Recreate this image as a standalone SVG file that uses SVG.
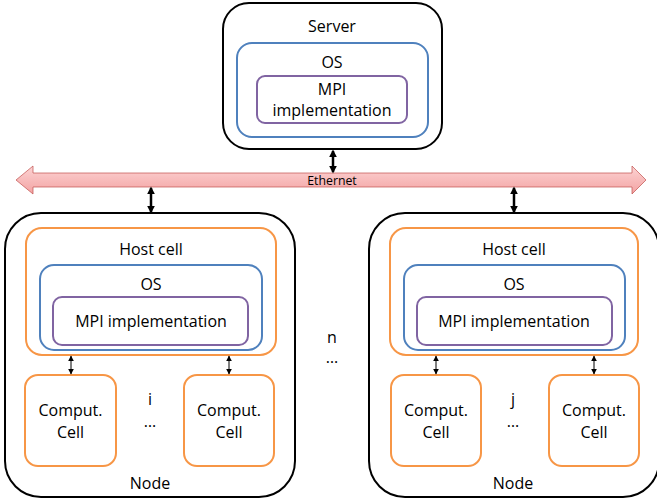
<svg xmlns="http://www.w3.org/2000/svg" width="657" height="499" viewBox="0 0 657 499">
<style>
text{font-family:"Open Sans","Liberation Sans",sans-serif;fill:#000;text-anchor:middle}
.t{font-size:16px}
.e{font-size:12.3px}
.blk{fill:#fff;stroke:#000;stroke-width:2}
.org{fill:none;stroke:#f79646;stroke-width:2}
.blu{fill:none;stroke:#4f81bd;stroke-width:2}
.pur{fill:none;stroke:#8064a2;stroke-width:2}
.thk{stroke:#000;stroke-width:2.5;fill:none;marker-start:url(#hb);marker-end:url(#hb)}
.thn{stroke:#000;stroke-width:1;fill:none;marker-start:url(#hs);marker-end:url(#hs)}
</style>
<defs>
<linearGradient id="eg" x1="0" y1="0" x2="0" y2="1">
<stop offset="0" stop-color="#fcd3d3"/>
<stop offset="1" stop-color="#f3a3a3"/>
</linearGradient>
<marker id="hb" viewBox="0 0 10 10" refX="8" refY="5" markerWidth="8" markerHeight="8" markerUnits="userSpaceOnUse" orient="auto-start-reverse">
<path d="M0,0 L10,5 L0,10 z" fill="#000"/>
</marker>
<marker id="hs" viewBox="0 0 10 10" refX="9" refY="5" markerWidth="6" markerHeight="6" markerUnits="userSpaceOnUse" orient="auto-start-reverse">
<path d="M0,0 L10,5 L0,10 z" fill="#000"/>
</marker>
</defs>

<g id="ethernet">
<polygon points="16,180 33,166 33,173 632,173 632,166 646,180 632,194 632,187 33,187 33,194" fill="url(#eg)" stroke="#c0504d" stroke-width="1" stroke-opacity="0.7"/>
<text class="e" x="332" y="185">Ethernet</text>
</g>

<g id="server">
<rect class="blk" x="223" y="3" width="219" height="146" rx="26"/>
<text class="t" x="332" y="32">Server</text>
<rect class="blu" x="237" y="43" width="191" height="94" rx="15"/>
<text class="t" x="332" y="68">OS</text>
<rect class="pur" x="257" y="76" width="150" height="47" rx="8"/>
<text class="t" x="332" y="95">MPI</text>
<text class="t" x="332" y="116">implementation</text>
</g>

<g id="node-left">
<rect class="blk" x="5" y="213" width="290" height="284" rx="36"/>
<rect class="org" x="26" y="228" width="250" height="127" rx="16"/>
<text class="t" x="151" y="255">Host cell</text>
<rect class="blu" x="40" y="265" width="222" height="85" rx="14"/>
<text class="t" x="151" y="290">OS</text>
<rect class="pur" x="53" y="297" width="195" height="48" rx="9"/>
<text class="t" x="151" y="327">MPI implementation</text>
<rect class="org" x="25" y="375" width="91" height="91" rx="13"/>
<text class="t" x="70.5" y="416">Comput.</text>
<text class="t" x="70.5" y="438">Cell</text>
<rect class="org" x="184" y="375" width="90" height="91" rx="13"/>
<text class="t" x="229" y="416">Comput.</text>
<text class="t" x="229" y="438">Cell</text>
<text class="t" x="150" y="405">i</text>
<text class="t" x="150" y="427">…</text>
<text class="t" x="150" y="489">Node</text>
</g>

<g id="node-right">
<rect class="blk" x="369" y="213" width="290" height="284" rx="36"/>
<rect class="org" x="390" y="228" width="248" height="127" rx="16"/>
<text class="t" x="514" y="255">Host cell</text>
<rect class="blu" x="404" y="265" width="221" height="85" rx="14"/>
<text class="t" x="514" y="290">OS</text>
<rect class="pur" x="417" y="297" width="195" height="48" rx="9"/>
<text class="t" x="514" y="327">MPI implementation</text>
<rect class="org" x="391" y="375" width="90" height="91" rx="13"/>
<text class="t" x="436" y="416">Comput.</text>
<text class="t" x="436" y="438">Cell</text>
<rect class="org" x="549" y="375" width="90" height="91" rx="13"/>
<text class="t" x="594" y="416">Comput.</text>
<text class="t" x="594" y="438">Cell</text>
<text class="t" x="513" y="405">j</text>
<text class="t" x="513" y="427">…</text>
<text class="t" x="513" y="489">Node</text>
</g>

<g id="between">
<text class="t" x="332" y="343">n</text>
<text class="t" x="332" y="363">…</text>
</g>

<g id="connectors">
<line class="thk" x1="333" y1="151" x2="333" y2="172"/>
<line class="thk" x1="151" y1="188" x2="151" y2="212"/>
<line class="thk" x1="514" y1="188" x2="514" y2="212"/>
<line class="thn" x1="71" y1="356" x2="71" y2="374"/>
<line class="thn" x1="229" y1="356" x2="229" y2="374"/>
<line class="thn" x1="436" y1="356" x2="436" y2="374"/>
<line class="thn" x1="594" y1="356" x2="594" y2="374"/>
</g>
</svg>
